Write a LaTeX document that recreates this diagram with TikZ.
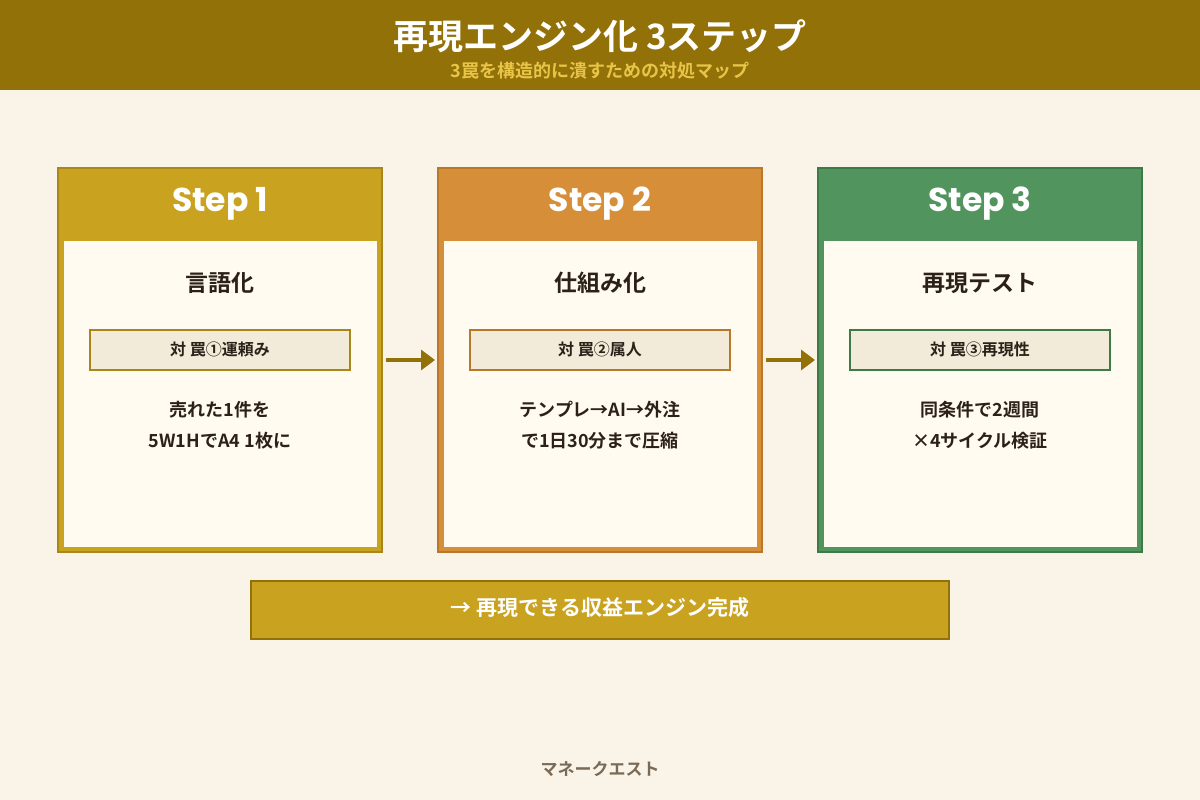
\documentclass[tikz,border=0pt]{standalone}
\usepackage{fontspec}
\setmainfont{Noto Sans CJK JP}[BoldFont={* Bold}]
\newfontfamily\latinfont{Poppins}[BoldFont={* Bold}]
\definecolor{bandgold}{HTML}{937109}
\definecolor{paper}{HTML}{FAF3E8}
\definecolor{cardin}{HTML}{FFFBF0}
\definecolor{tagfill}{HTML}{F3EBDA}
\definecolor{subgold}{HTML}{E8C547}
\definecolor{goldA}{HTML}{C9A21F}
\definecolor{goldB}{HTML}{A8861A}
\definecolor{orangeA}{HTML}{D68F38}
\definecolor{orangeB}{HTML}{B8782A}
\definecolor{greenA}{HTML}{52945E}
\definecolor{greenB}{HTML}{3E7A48}
\definecolor{inkdark}{HTML}{2B2118}
\definecolor{footgray}{HTML}{7A6A55}
\usetikzlibrary{arrows.meta}
\tikzset{
  steptxt/.style={font=\latinfont\bfseries\fontsize{33}{36}\selectfont, text=white},
  headtxt/.style={font=\bfseries\fontsize{23}{26}\selectfont, text=inkdark},
  tagtxt/.style={font=\bfseries\fontsize{16}{18}\selectfont, text=inkdark},
  bodytxt/.style={font=\bfseries\fontsize{18}{31}\selectfont, text=inkdark, align=center},
  flow/.style={bandgold, line width=4pt, -{Triangle[length=14pt,width=20pt]}}
}
\begin{document}
\begin{tikzpicture}[x=1pt,y=-1pt]
  \useasboundingbox (0,0) rectangle (1200,800);
  % background and title band
  \fill[paper] (0,0) rectangle (1200,800);
  \fill[bandgold] (0,0) rectangle (1200,90);
  \node[font=\bfseries\fontsize{35}{38}\selectfont, text=white] (title) at (600,36) {再現エンジン化 3ステップ};
  \node[font=\bfseries\fontsize{18}{20}\selectfont, text=subgold] (subtitle) at (600,71) {3罠を構造的に潰すための対処マップ};
  % cards
  \foreach \x/\fc/\bc/\n/\head/\tag/\la/\lb in {
      58/goldA/goldB/1/言語化/対 罠①運頼み/売れた1件を/5W1HでA4 1枚に,
      438/orangeA/orangeB/2/仕組み化/対 罠②属人/テンプレ→AI→外注/で1日30分まで圧縮,
      818/greenA/greenB/3/再現テスト/対 罠③再現性/同条件で2週間/×4サイクル検証}{
    \fill[\fc] (\x,168) rectangle ++(324,384);
    \draw[\bc, line width=2.5pt] (\x,168) rectangle ++(324,384);
    \fill[cardin] (\x+6,241) rectangle ++(313,306);
    \node[steptxt] (step\n) at (\x+162,204) {Step \n};
    \node[headtxt] (head\n) at (\x+162,283) {\head};
    \draw[\bc, fill=tagfill, line width=1.2pt] (\x+32,330) rectangle ++(260,40);
    \node[tagtxt] (tag\n) at (\x+162,349) {\tag};
    \node[bodytxt] (body\n) at (\x+162,425) {\la\\\lb};
  }
  % arrows between cards
  \coordinate (a1) at (386,360); \coordinate (b1) at (435,360);
  \coordinate (a2) at (766,360); \coordinate (b2) at (815,360);
  \draw[flow] (a1) -- (b1);
  \draw[flow] (a2) -- (b2);
  % result bar
  \draw[bandgold, fill=goldA, line width=2.5pt] (251,581) rectangle (949,639);
  \node[font=\bfseries\fontsize{21}{24}\selectfont, text=white] (result) at (600,608) {→ 再現できる収益エンジン完成};
  % footer
  \node[font=\bfseries\fontsize{17}{20}\selectfont, text=footgray] (foot) at (600,769) {マネークエスト};
\end{tikzpicture}
\end{document}
